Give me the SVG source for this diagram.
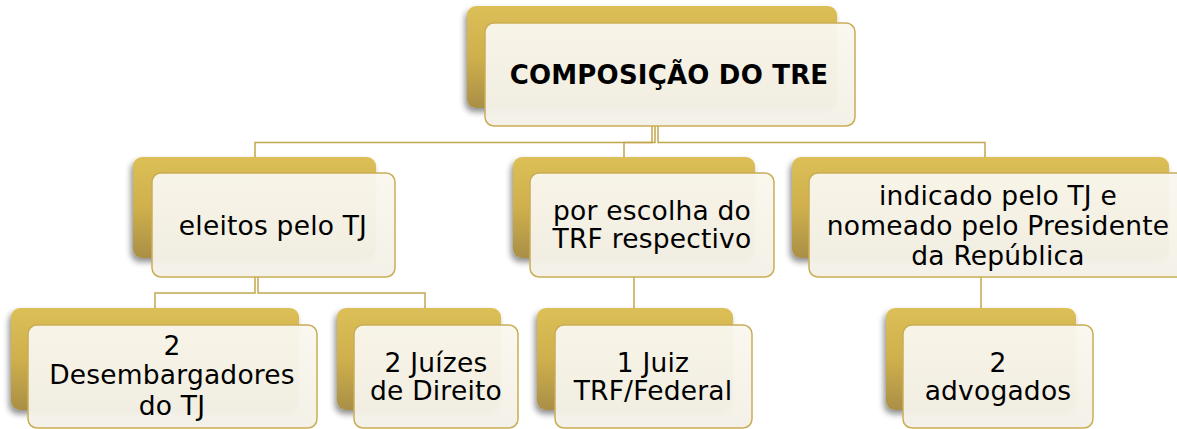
<svg xmlns="http://www.w3.org/2000/svg" width="1177" height="429" viewBox="0 0 1177 429">
<defs>
<linearGradient id="gold" x1="0" y1="0" x2="0" y2="1">
<stop offset="0" stop-color="#DCBF56"/>
<stop offset="0.5" stop-color="#CFB04D"/>
<stop offset="1" stop-color="#A98F45"/>
</linearGradient>
<linearGradient id="cream" x1="0" y1="0" x2="0" y2="1">
<stop offset="0" stop-color="#F9F7EE" stop-opacity="0.96"/>
<stop offset="1" stop-color="#F3F0E7" stop-opacity="0.96"/>
</linearGradient>
<filter id="sh" x="-10%" y="-10%" width="120%" height="130%">
<feGaussianBlur in="SourceAlpha" stdDeviation="3"/>
<feOffset dx="-2" dy="4" result="b"/>
<feComponentTransfer><feFuncA type="linear" slope="0.45"/></feComponentTransfer>
<feMerge><feMergeNode/><feMergeNode in="SourceGraphic"/></feMerge>
</filter>
</defs>
<style>
.back{fill:url(#gold);filter:url(#sh)}
.front{fill:url(#cream);stroke:#C9AD55;stroke-width:1.5}
.t{font-family:"DejaVu Sans",Verdana,sans-serif;font-size:26.5px;letter-spacing:0.2px;fill:#000;text-anchor:middle}
.b{font-weight:bold;font-size:26px}
.c{fill:none;stroke:#C2A64E;stroke-width:1.5}
</style>
<g id="connectors">
<path class="c" d="M652 126 V142.5 H255 V157"/>
<path class="c" d="M655 126 V142.5 H624 V157"/>
<path class="c" d="M658 126 V142.5 H985 V157"/>
<path class="c" d="M255 277 V293 H155 V308"/>
<path class="c" d="M258 277 V293 H425 V308"/>
<path class="c" d="M634 277 V308"/>
<path class="c" d="M981 277 V308"/>
</g>
<g id="n-root">
<rect class="back" x="467" y="6" width="370" height="102" rx="9"/>
<rect class="front" x="485" y="23" width="370" height="103" rx="9"/>
<text class="t b" x="669" y="84">COMPOSIÇÃO DO TRE</text>
</g>
<g id="n-eleitos">
<rect class="back" x="133" y="157" width="243" height="101" rx="9"/>
<rect class="front" x="152" y="173" width="243" height="104" rx="9"/>
<text class="t" x="273" y="235">eleitos pelo TJ</text>
</g>
<g id="n-trf">
<rect class="back" x="513" y="157" width="242" height="101" rx="9"/>
<rect class="front" x="530" y="173" width="244" height="104" rx="9"/>
<text class="t" x="652" y="220">por escolha do</text>
<text class="t" x="652" y="248">TRF respectivo</text>
</g>
<g id="n-indicado">
<rect class="back" x="792" y="157" width="377" height="101" rx="9"/>
<rect class="front" x="809" y="173" width="378" height="104" rx="9"/>
<text class="t" x="998" y="205">indicado pelo TJ e</text>
<text class="t" x="998" y="235">nomeado pelo Presidente</text>
<text class="t" x="998" y="265">da República</text>
</g>
<g id="n-desemb">
<rect class="back" x="11" y="308" width="288" height="102" rx="9"/>
<rect class="front" x="28" y="325" width="289" height="103" rx="9"/>
<text class="t" x="172" y="355">2</text>
<text class="t" x="172" y="384">Desembargadores</text>
<text class="t" x="172" y="415">do TJ</text>
</g>
<g id="n-juizes">
<rect class="back" x="337" y="308" width="164" height="102" rx="9"/>
<rect class="front" x="354" y="325" width="164" height="103" rx="9"/>
<text class="t" x="436" y="372">2 Juízes</text>
<text class="t" x="436" y="400">de Direito</text>
</g>
<g id="n-juiz-trf">
<rect class="back" x="537" y="308" width="196" height="102" rx="9"/>
<rect class="front" x="555" y="325" width="197" height="103" rx="9"/>
<text class="t" x="653" y="372">1 Juiz</text>
<text class="t" x="653" y="400">TRF/Federal</text>
</g>
<g id="n-advogados">
<rect class="back" x="886" y="308" width="190" height="102" rx="9"/>
<rect class="front" x="903" y="325" width="190" height="103" rx="9"/>
<text class="t" x="998" y="372">2</text>
<text class="t" x="998" y="400">advogados</text>
</g>
</svg>
